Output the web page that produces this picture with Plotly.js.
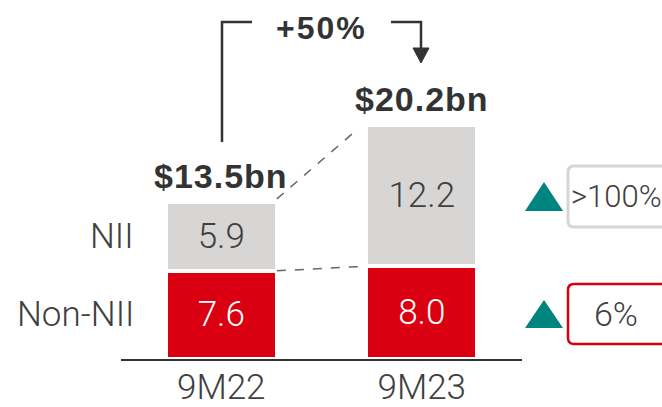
<!DOCTYPE html>
<html>
<head>
<meta charset="utf-8">
<script src="https://cdn.plot.ly/plotly-3.0.1.min.js"></script>
<style>
  body { margin: 0; background: #fff; }
  #chart { width: 662px; height: 407px; }
</style>
</head>
<body>
<div id="chart"></div>
<script>
// data
const categories = ["9M22", "9M23"];
const nonNII = [7.6, 8.0];
const nii = [5.9, 12.2];
const seriesNames = ["Non-NII", "NII"];
const growthLabels = ["6%", ">100%"];
const totalGrowth = "+50%";

const totals = categories.map((c, i) => +(nonNII[i] + nii[i]).toFixed(1));

const RED = "#DB0011";
const GREY = "#D7D6D5";
const TEAL = "#00847F";
const TEXT = "#404040";
const DARK = "#333333";

// plot box in pixels
const L = 121, T = 69, W = 401, H = 290;
const X = p => (p - L) / W;
const Y = p => (T + H - p) / H;

const barWidth = 0.555;
const hw = barWidth / 2;

const lightFont = {family: "Roboto, Arial, sans-serif", weight: 300, color: TEXT};
const boldFont = {family: "Liberation Sans, Arial, sans-serif", color: DARK};

function roundRect(x0, y0, x1, y1, r) {
  return "M" + X(x0 + r) + "," + Y(y0) +
    " L" + X(x1 - r) + "," + Y(y0) +
    " Q" + X(x1) + "," + Y(y0) + " " + X(x1) + "," + Y(y0 + r) +
    " L" + X(x1) + "," + Y(y1 - r) +
    " Q" + X(x1) + "," + Y(y1) + " " + X(x1 - r) + "," + Y(y1) +
    " L" + X(x0 + r) + "," + Y(y1) +
    " Q" + X(x0) + "," + Y(y1) + " " + X(x0) + "," + Y(y1 - r) +
    " L" + X(x0) + "," + Y(y0 + r) +
    " Q" + X(x0) + "," + Y(y0) + " " + X(x0 + r) + "," + Y(y0) + " Z";
}

function tri(cx, top, bottom, half) {
  return "M" + X(cx) + "," + Y(top) +
    " L" + X(cx + half) + "," + Y(bottom) +
    " L" + X(cx - half) + "," + Y(bottom) + " Z";
}

function spaced(s, px) {
  return '<span style="letter-spacing:' + px + 'px"><b>' + s + '</b></span>';
}

const traces = [
  {
    type: "bar",
    name: seriesNames[0],
    x: categories,
    y: nonNII,
    width: barWidth,
    text: nonNII.map(v => v.toFixed(1)),
    textposition: "inside",
    insidetextanchor: "middle",
    textfont: Object.assign({}, lightFont, {size: 35, color: "#ffffff"}),
    marker: {color: RED, line: {color: "#ffffff", width: 4}},
    hoverinfo: "none"
  },
  {
    type: "bar",
    name: seriesNames[1],
    x: categories,
    y: nii,
    width: barWidth,
    text: nii.map(v => v.toFixed(1)),
    textposition: "inside",
    insidetextanchor: "middle",
    textfont: Object.assign({}, lightFont, {size: 35}),
    marker: {color: GREY, line: {color: "#ffffff", width: 4}},
    hoverinfo: "none"
  }
];

const shapes = [
  // dashed connectors between the bars
  {type: "line", xref: "x", yref: "y", x0: hw, y0: nonNII[0], x1: 1 - hw, y1: nonNII[1],
   line: {color: "#666666", width: 1.5, dash: "dash"}},
  {type: "line", xref: "x", yref: "y", x0: hw, y0: totals[0] + 0.3, x1: 1 - hw - 0.05, y1: totals[1] - 0.5,
   line: {color: "#666666", width: 1.5, dash: "dash"}},
  // bracket with arrow
  {type: "path", xref: "paper", yref: "paper",
   path: "M" + X(222) + "," + Y(142) + " L" + X(222) + "," + Y(22) + " L" + X(252) + "," + Y(22),
   line: {color: DARK, width: 2.5}},
  {type: "path", xref: "paper", yref: "paper",
   path: "M" + X(391) + "," + Y(22) + " L" + X(421) + "," + Y(22) + " L" + X(421) + "," + Y(50),
   line: {color: DARK, width: 2.5}},
  {type: "path", xref: "paper", yref: "paper",
   path: "M" + X(413) + "," + Y(48) + " L" + X(429) + "," + Y(48) + " L" + X(421) + "," + Y(63) + " Z",
   fillcolor: DARK, line: {color: DARK, width: 1}},
  // teal up triangles
  {type: "path", xref: "paper", yref: "paper", path: tri(544, 182, 211, 19),
   fillcolor: TEAL, line: {width: 0}},
  {type: "path", xref: "paper", yref: "paper", path: tri(544, 300, 328, 19),
   fillcolor: TEAL, line: {width: 0}},
  // boxes
  {type: "path", xref: "paper", yref: "paper", path: roundRect(568, 166, 700, 227, 6),
   fillcolor: "rgba(0,0,0,0)", line: {color: "#D6D6D6", width: 3}},
  {type: "path", xref: "paper", yref: "paper", path: roundRect(568, 284, 700, 344, 6),
   fillcolor: "rgba(0,0,0,0)", line: {color: RED, width: 2.5}}
];

const annotations = [
  // row labels
  {xref: "paper", yref: "y", x: X(136), y: nonNII[0] / 2, xanchor: "right", yanchor: "middle",
   text: seriesNames[0], showarrow: false, font: Object.assign({}, lightFont, {size: 35})},
  {xref: "paper", yref: "y", x: X(136), y: nonNII[0] + nii[0] / 2, xanchor: "right", yanchor: "middle",
   text: seriesNames[1], showarrow: false, font: Object.assign({}, lightFont, {size: 35})},
  // growth boxes
  {xref: "paper", yref: "paper", x: X(616), y: Y(314), xanchor: "center", yanchor: "middle",
   text: growthLabels[0], showarrow: false, font: Object.assign({}, lightFont, {size: 34})},
  {xref: "paper", yref: "paper", x: X(569), y: Y(196), xanchor: "left", yanchor: "middle",
   text: growthLabels[1], showarrow: false, font: Object.assign({}, lightFont, {size: 31})},
  // total growth
  {xref: "x", yref: "paper", x: 0.5, y: Y(28), xanchor: "center", yanchor: "middle",
   text: spaced(totalGrowth, 2), showarrow: false,
   font: Object.assign({}, boldFont, {size: 32})}
];

categories.forEach((c, i) => {
  annotations.push({
    xref: "x", yref: "y", x: c, y: totals[i], xanchor: "center", yanchor: "middle", yshift: 26,
    text: spaced("$" + totals[i].toFixed(1) + "bn", 1), showarrow: false,
    font: Object.assign({}, boldFont, {size: 34})
  });
});

const layout = {
  width: 662,
  height: 407,
  margin: {l: L, r: 662 - L - W, t: T, b: 407 - T - H, pad: 0},
  barmode: "stack",
  showlegend: false,
  paper_bgcolor: "#ffffff",
  plot_bgcolor: "#ffffff",
  xaxis: {
    type: "category",
    range: [-0.5, 1.5],
    showline: true,
    linecolor: DARK,
    linewidth: 2,
    ticks: "",
    ticklabelstandoff: -4,
    showgrid: false,
    zeroline: false,
    tickfont: Object.assign({}, lightFont, {size: 35}),
    fixedrange: true
  },
  yaxis: {
    range: [0, 25],
    visible: false,
    showgrid: false,
    zeroline: false,
    fixedrange: true
  },
  shapes: shapes,
  annotations: annotations
};

Plotly.newPlot("chart", traces, layout, {displayModeBar: false, staticPlot: true});
</script>
</body>
</html>
